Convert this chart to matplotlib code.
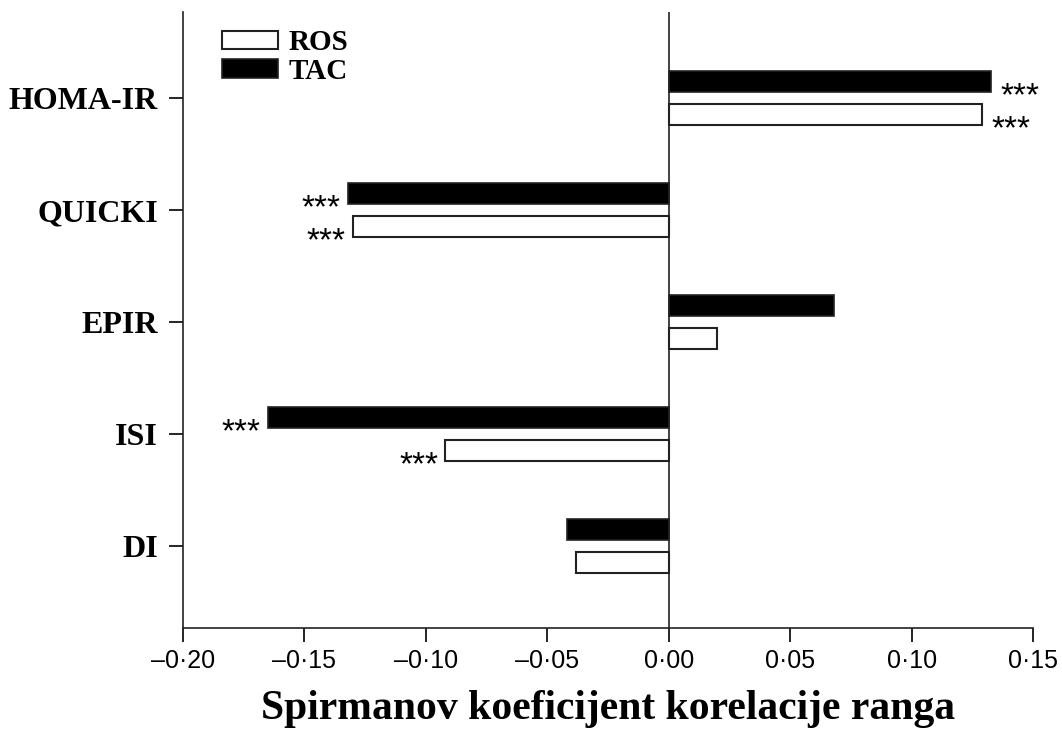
import numpy as np
import matplotlib.pyplot as plt

# Spearman rank correlation, top to bottom
categories = ["HOMA-IR", "QUICKI", "EPIR", "ISI", "DI"]
ros = [0.129, -0.130, 0.020, -0.092, -0.038]
tac = [0.1325, -0.132, 0.068, -0.165, -0.042]
ros_sig = ["***", "***", "", "***", ""]
tac_sig = ["***", "***", "", "***", ""]
xticks = [-0.20, -0.15, -0.10, -0.05, 0.00, 0.05, 0.10, 0.15]

serif = ["Liberation Serif", "DejaVu Serif"]
sans = ["Liberation Sans", "DejaVu Sans"]

fig = plt.figure(figsize=(10.62, 7.4), dpi=100)
ax = fig.add_axes([183 / 1062, 1 - 628 / 740, 850 / 1062, 616 / 740])

y = np.arange(len(categories))
h = 0.19
off = 0.147

ax.barh(y - off, tac, height=h, color="black", edgecolor="#222222", linewidth=1.2, label="TAC")
ax.barh(y + off, ros, height=h, color="white", edgecolor="#222222", linewidth=1.5, label="ROS")

def stars(vals, marks, yy):
    for v, m, yi in zip(vals, marks, yy):
        if not m:
            continue
        if v > 0:
            ax.text(v + 0.004, yi + 0.21, m, ha="left", va="baseline", fontsize=24, family=sans)
        else:
            ax.text(v - 0.003, yi + 0.21, m, ha="right", va="baseline", fontsize=24, family=sans)

stars(tac, tac_sig, y - off)
stars(ros, ros_sig, y + off)

ax.axvline(0, color="#222222", linewidth=1.2)

ax.set_xlim(-0.20, 0.15)
ax.set_ylim(4.732, -0.768)
ax.set_xticks(xticks)
ax.set_xticklabels([("–" if t < 0 else "") + f"{abs(t):.2f}".replace(".", "·") for t in xticks],
                   family=sans, fontsize=18)
ax.set_yticks(y)
ax.set_yticklabels(categories, family=serif, fontsize=23, fontweight="bold")
ax.tick_params(axis="x", direction="out", length=10, width=1.2, pad=5)
ax.tick_params(axis="y", direction="out", length=10, width=1.2, pad=8)

for s in ["top", "right"]:
    ax.spines[s].set_visible(False)
for s in ["left", "bottom"]:
    ax.spines[s].set_linewidth(1.2)
    ax.spines[s].set_color("#222222")

ax.set_xlabel("Spirmanov koeficijent korelacije ranga", family=serif, fontsize=30,
              fontweight="bold", labelpad=12)

handles, labels = ax.get_legend_handles_labels()
ax.legend(handles[::-1], labels[::-1], loc="upper left", bbox_to_anchor=(0.046, 0.972),
          frameon=False, prop={"family": serif, "size": 21, "weight": "bold"},
          handlelength=1.9, handleheight=0.62, handletextpad=0.38, labelspacing=0.06,
          borderpad=0, borderaxespad=0)

fig.savefig("out.png", dpi=100)
